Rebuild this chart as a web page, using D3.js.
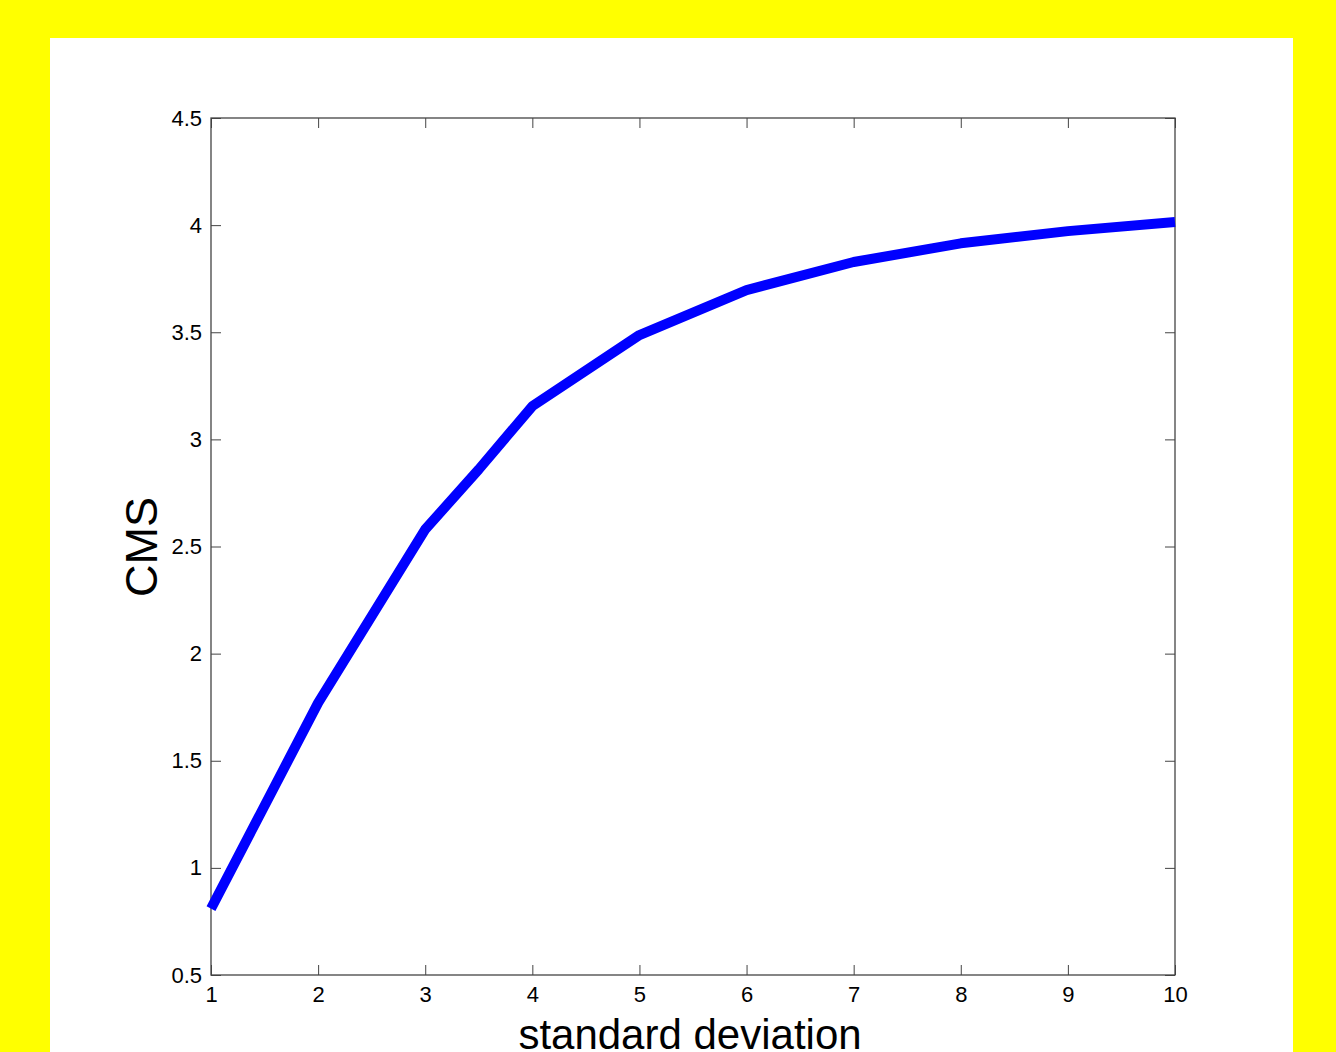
<!DOCTYPE html>
<html>
<head>
<meta charset="utf-8">
<script src="https://cdn.jsdelivr.net/npm/d3@7"></script>
<style>
  html, body { margin: 0; padding: 0; background: #ffff00; }
  svg { display: block; }
  text { font-family: "Liberation Sans", Arial, sans-serif; fill: #000; }
</style>
</head>
<body>
<script>
const xValues = [1, 2, 3, 3.5, 4, 5, 6, 7, 8, 9, 10];
const cmsValues = [0.81, 1.77, 2.58, 2.86, 3.155, 3.487, 3.697, 3.828, 3.915, 3.972, 4.015];
const xTicks = [1, 2, 3, 4, 5, 6, 7, 8, 9, 10];
const yTicks = [0.5, 1, 1.5, 2, 2.5, 3, 3.5, 4, 4.5];
const xLabel = "standard deviation";
const yLabel = "CMS";

const W = 1336, H = 1052;
const svg = d3.select("body").append("svg").attr("width", W).attr("height", H);
svg.append("rect").attr("width", W).attr("height", H).attr("fill", "#ffff00");
svg.append("rect").attr("x", 50).attr("y", 38).attr("width", 1243).attr("height", H - 38).attr("fill", "#ffffff");

const L = 211, R = 1175, T = 118, B = 975;
const x = d3.scaleLinear().domain([1, 10]).range([L, R]);
const y = d3.scaleLinear().domain([0.5, 4.5]).range([B, T]);

const axisColor = "#444";
const tl = 10;

function styleAxis(g) {
  g.select(".domain").remove();
  g.selectAll(".tick line").attr("stroke", axisColor).attr("stroke-width", 1);
  g.selectAll(".tick text").attr("font-size", 22).attr("font-family", "Liberation Sans, Arial, sans-serif").attr("fill", "#000");
}

// bottom axis (ticks inward)
const gB = svg.append("g").attr("transform", `translate(0,${B})`)
  .call(d3.axisBottom(x).tickValues(xTicks).tickFormat(d3.format("d")).tickSizeInner(-tl).tickSizeOuter(0).tickPadding(11));
styleAxis(gB);
gB.selectAll(".tick text").attr("dy", "0.71em");
// top axis ticks
const gT = svg.append("g").attr("transform", `translate(0,${T})`)
  .call(d3.axisTop(x).tickValues(xTicks).tickFormat("").tickSizeInner(-tl).tickSizeOuter(0));
styleAxis(gT);
// left axis
const gL = svg.append("g").attr("transform", `translate(${L},0)`)
  .call(d3.axisLeft(y).tickValues(yTicks).tickFormat(d => String(d)).tickSizeInner(-tl).tickSizeOuter(0).tickPadding(9));
styleAxis(gL);
gL.selectAll(".tick text").attr("dy", "0.32em");
// right axis ticks
const gR = svg.append("g").attr("transform", `translate(${R},0)`)
  .call(d3.axisRight(y).tickValues(yTicks).tickFormat("").tickSizeInner(-tl).tickSizeOuter(0));
styleAxis(gR);

// box
svg.append("rect").attr("x", L).attr("y", T).attr("width", R - L).attr("height", B - T)
  .attr("fill", "none").attr("stroke", axisColor).attr("stroke-width", 1.3);

// line
const line = d3.line().x((d, i) => x(xValues[i])).y(d => y(d));
svg.append("path").datum(cmsValues).attr("d", line)
  .attr("fill", "none").attr("stroke", "#0000ff").attr("stroke-width", 10).attr("stroke-linejoin", "round");

// labels
svg.append("text").attr("x", 690).attr("y", 1049).attr("text-anchor", "middle")
  .attr("font-size", 42).text(xLabel);
svg.append("text").attr("transform", `translate(157,547) rotate(-90)`).attr("text-anchor", "middle")
  .attr("font-size", 45).text(yLabel);
</script>
</body>
</html>
